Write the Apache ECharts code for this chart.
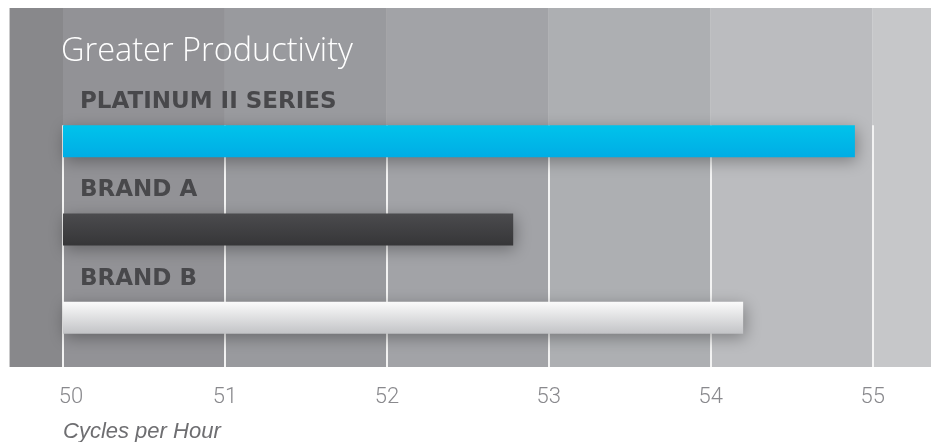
<!DOCTYPE html>
<html><head><meta charset="utf-8">
<script src="https://cdn.jsdelivr.net/npm/echarts@6/dist/echarts.min.js"></script>
<style>html,body{margin:0;padding:0;background:#fff}#c{width:931px;height:442px}</style>
</head><body><div id="c"></div>
<script>
// ---- data ----
const categories = ['PLATINUM II SERIES', 'BRAND A', 'BRAND B'];
const cyclesPerHour = [54.89, 52.78, 54.20];
const tickValues = [50, 51, 52, 53, 54, 55];
const bandEdges = [49.67, 50, 51, 52, 53, 54, 55, 55.36];
const bandColors = ['#88888b', '#929296', '#999a9e', '#a2a3a7', '#adafb2', '#bbbcbf', '#c6c7c9'];
const barGradients = [['#00c3eb', '#00ade5'], ['#4b4b4e', '#363638'], ['#fbfbfb', '#c2c3c6']];
const titleText = 'Greater Productivity';
const axisTitle = 'Cycles per Hour';

const BAR_W = 32;
const chart = echarts.init(document.getElementById('c'), null, {renderer: 'canvas'});

const bandData = bandColors.map((c, i) => [bandEdges[i], bandEdges[i + 1], 0, i]);

chart.setOption({
  animation: false,
  backgroundColor: '#ffffff',
  title: [
    {text: titleText, left: 56, top: 30,
     textStyle: {color: '#ffffff', fontSize: 32.5, fontWeight: 300, fontFamily: 'Open Sans'}},
    {text: axisTitle, left: 58, top: 416,
     textStyle: {color: '#6e6e71', fontSize: 22, fontWeight: 'normal', fontStyle: 'italic', fontFamily: 'Liberation Sans'}}
  ],
  grid: {left: 63, right: 0, top: 97, bottom: 80},
  xAxis: {
    type: 'value', min: 50, max: 55.36, interval: 1,
    axisLine: {show: false}, axisTick: {show: false}, splitLine: {show: false},
    axisLabel: {
      margin: 24, color: '#89898d', fontSize: 22, fontWeight: 300, fontFamily: 'Roboto',
      showMaxLabel: false,
      formatter: v => (v === tickValues[0] ? '{first|' + v + '}' : String(v)),
      rich: {first: {padding: [0, 0, 0, 16], color: '#89898d', fontSize: 22, fontWeight: 300, fontFamily: 'Roboto'}}
    }
  },
  yAxis: {type: 'category', data: categories, inverse: true, show: false},
  series: [
    {
      type: 'custom', z: 0, silent: true, clip: false,
      encode: {x: [0, 1], y: 2},
      data: bandData,
      renderItem(params, api) {
        const x0 = api.coord([api.value(0), 0])[0];
        const x1 = api.coord([api.value(1), 0])[0];
        const cs = params.coordSys;
        return {type: 'rect', shape: {x: x0, y: cs.y - 89, width: x1 - x0, height: cs.height + 94},
                style: {fill: bandColors[api.value(3)]}};
      }
    },
    {
      type: 'custom', z: 1, silent: true, clip: false,
      encode: {x: 0, y: 1},
      data: tickValues.map(v => [v, 0]),
      renderItem(params, api) {
        const p = api.coord([api.value(0), 0]);
        const cs = params.coordSys;
        const x = Math.round(p[0]);
        return {type: 'line', shape: {x1: x, y1: p[1] - BAR_W / 2, x2: x, y2: cs.y + cs.height + 5},
                style: {stroke: '#f3f3f3', lineWidth: 2}};
      }
    },
    {
      type: 'bar', z: 3, barWidth: BAR_W,
      data: cyclesPerHour.map((v, i) => ({
        value: v,
        itemStyle: {
          color: new echarts.graphic.LinearGradient(0, 0, 0, 1, [
            {offset: 0, color: barGradients[i][0]}, {offset: 1, color: barGradients[i][1]}]),
          shadowBlur: 16, shadowColor: 'rgba(0,0,0,0.32)', shadowOffsetX: 2, shadowOffsetY: 4
        }
      })),
      label: {
        show: true, position: [17, -23], align: 'left', verticalAlign: 'middle',
        formatter: p => p.name,
        color: '#48484b', fontSize: 23, fontWeight: 'bold', fontFamily: 'DejaVu Sans'
      }
    }
  ]
});
</script></body></html>
